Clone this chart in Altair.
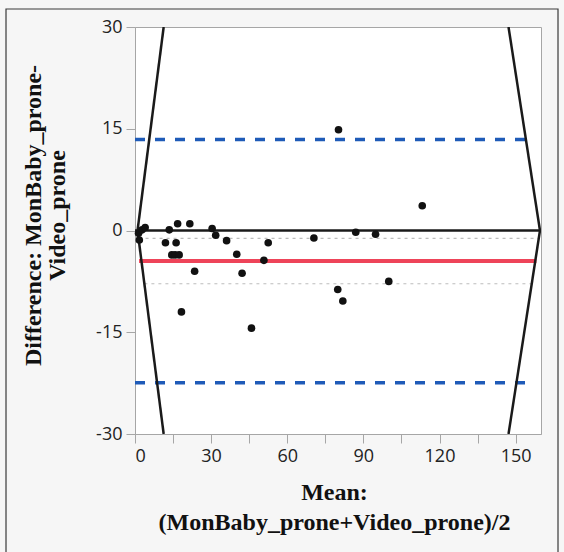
import altair as alt
import pandas as pd

# ---- data ----
mean_vals = [1.4, 1.7, 2.8, 4.0, 12.0, 13.5, 14.5, 15.8, 16.2, 16.8, 17.4, 18.3,
             21.6, 23.5, 30.4, 31.8, 36.1, 40.1, 42.2, 45.9, 50.8, 52.5, 70.5,
             79.9, 80.2, 81.9, 87.0, 94.8, 100.0, 113.2]
diff_vals = [-0.4, -1.4, 0.1, 0.45, -1.8, 0.1, -3.6, -3.6, -1.8, 1.0, -3.6, -12.0,
             1.0, -6.0, 0.3, -0.7, -1.5, -3.5, -6.3, -14.4, -4.4, -1.8, -1.1,
             -8.7, 14.85, -10.4, -0.25, -0.55, -7.5, 3.65]

mean_diff = -4.5
ci_bounds = [-1.15, -7.85]
ci_start = [1.4, 3.7]
ci_end = [159.0, 156.3]
loa_bounds = [13.4, -22.45]
loa_start = [0.0, 0.0]
loa_end = [155.6, 155.6]
mean_start, mean_end = 1.6, 158.2
zero_start, zero_end = 0.0, 160.0

diag_x = [1.0, 1.0, 159.6, 159.6]
diag_y = [0.0, 0.0, 0.0, 0.0]
diag_x2 = [11.3, 11.3, 147.2, 147.2]
diag_y2 = [30.0, -30.0, 30.0, -30.0]

x_ticks = [0, 15, 30, 45, 60, 75, 90, 105, 120, 135, 150]
y_ticks = [-30, -15, 0, 15, 30]

# ---- tables ----
pts = pd.DataFrame({"mean": mean_vals, "diff": diff_vals})
ci_df = pd.DataFrame({"y": ci_bounds, "x": ci_start, "x2": ci_end})
loa_df = pd.DataFrame({"y": loa_bounds, "x": loa_start, "x2": loa_end})
mean_df = pd.DataFrame({"y": [mean_diff], "x": [mean_start], "x2": [mean_end]})
zero_df = pd.DataFrame({"y": [0.0], "x": [zero_start], "x2": [zero_end]})
diag_df = pd.DataFrame({"x": diag_x, "y": diag_y, "x2": diag_x2, "y2": diag_y2})
frame_df = pd.DataFrame({"a": [0]})

serif = "Liberation Serif"
sans = "Open Sans"

xscale = alt.Scale(domain=[0, 160], nice=False, zero=False)
yscale = alt.Scale(domain=[-30, 30], nice=False, zero=False)

xaxis = alt.Axis(
    values=x_ticks,
    labelExpr="datum.value % 30 == 0 ? toString(datum.value) : ''",
    grid=False, tickSize=9, labelPadding=4,
    labelFont=sans, labelFontSize=18, labelColor="#222222",
    title=["Mean:", "(MonBaby_prone+Video_prone)/2"],
    titleFont=serif, titleFontSize=24, titleFontWeight="bold", titleColor="#111111",
    titleBaseline="alphabetic", titleX=199, titleY=65, titleLineHeight=30,
    titleAlign="center",
)
yaxis = alt.Axis(
    values=y_ticks, grid=False, tickSize=9, labelPadding=4,
    labelExpr="toString(datum.value)",
    labelFont=sans, labelFontSize=18, labelColor="#222222",
    title=["Difference: MonBaby_prone-", "Video_prone"],
    titleFont=serif, titleFontSize=24, titleFontWeight="bold", titleColor="#111111",
    titleAngle=270, titleBaseline="alphabetic", titleAlign="center",
    titleX=-95, titleY=188, titleLineHeight=24,
)

X = alt.X("x:Q", scale=xscale, axis=xaxis)
Y = alt.Y("y:Q", scale=yscale, axis=yaxis)

frame = alt.Chart(frame_df).mark_rect(
    fill="transparent", stroke="#3a3a3a", strokeWidth=1.2
).encode(
    x=alt.value(-129), x2=alt.value(423), y=alt.value(-18), y2=alt.value(540)
)

ci_layer = alt.Chart(ci_df).mark_rule(
    color="#bdbdbd", strokeWidth=1.2, strokeDash=[3, 4]
).encode(x=X, x2="x2:Q", y=Y)

loa_layer = alt.Chart(loa_df).mark_rule(
    color="#1f5bb8", strokeWidth=3.5, strokeDash=[10, 10]
).encode(x=X, x2="x2:Q", y=Y)

mean_layer = alt.Chart(mean_df).mark_rule(
    color="#ee4459", strokeWidth=4
).encode(x=X, x2="x2:Q", y=Y)

zero_layer = alt.Chart(zero_df).mark_rule(
    color="#1a1a1a", strokeWidth=2.5
).encode(x=X, x2="x2:Q", y=Y)

diag_layer = alt.Chart(diag_df).mark_rule(
    color="#1a1a1a", strokeWidth=2.5, clip=True
).encode(x=X, x2="x2:Q", y=Y, y2="y2:Q")

pt_layer = alt.Chart(pts).mark_circle(
    size=58, color="#111111", opacity=1
).encode(
    x=alt.X("mean:Q", scale=xscale, axis=xaxis),
    y=alt.Y("diff:Q", scale=yscale, axis=yaxis),
)

chart = alt.layer(
    frame, ci_layer, loa_layer, mean_layer, zero_layer, diag_layer, pt_layer
).properties(
    width=406, height=407,
    autosize=alt.AutoSizeParams(type="none"),
    padding={"left": 135, "top": 27, "right": 23, "bottom": 118},
    background="#f6f6f6",
).configure_view(
    fill="white", stroke="#a6a6a6", strokeWidth=1
).configure_axis(
    domainColor="#a6a6a6", tickColor="#a6a6a6", domainWidth=1, tickWidth=1
)

chart.save("out.html", embed_options={"renderer": "svg", "actions": False})
